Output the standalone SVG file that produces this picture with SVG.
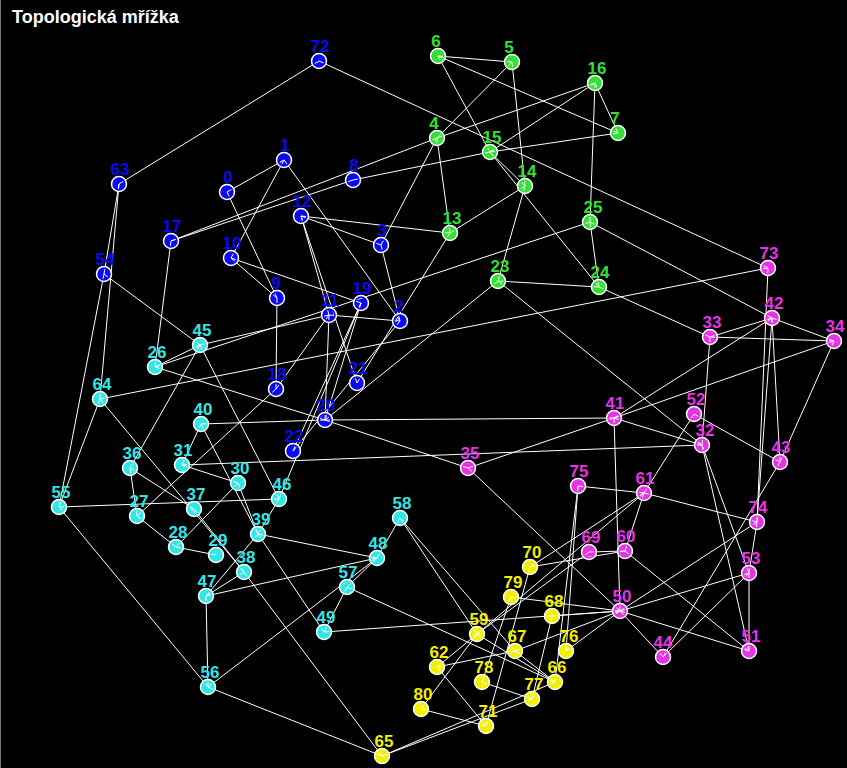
<svg xmlns="http://www.w3.org/2000/svg" xmlns:xlink="http://www.w3.org/1999/xlink" width="847" height="768" viewBox="0 0 847 768">
<style>
.e line{stroke:#fff;stroke-width:1}
.n circle{stroke:#fff;stroke-width:1.5}
text{font-family:"Liberation Sans",Arial,sans-serif;font-weight:bold;font-size:17px;text-anchor:middle}
.t{font-size:18px;text-anchor:start;fill:#fff}
.b circle,.b text{fill:#0a0af0}
.g circle,.g text{fill:#33e033}
.m circle,.m text{fill:#e633e6}
.y circle,.y text{fill:#f0f000}
.c circle,.c text{fill:#33e6e6}
</style>
<defs>
<clipPath id="ctr">
<circle cx="319" cy="61" r="5"/><circle cx="284" cy="160" r="5"/><circle cx="227" cy="192" r="5"/><circle cx="353" cy="180" r="5"/><circle cx="119" cy="184" r="5"/><circle cx="171" cy="241" r="5"/><circle cx="301" cy="216" r="5"/><circle cx="381" cy="245" r="5"/><circle cx="231" cy="258" r="5"/><circle cx="104" cy="274" r="5"/><circle cx="277" cy="298" r="5"/><circle cx="329" cy="315" r="5"/><circle cx="361" cy="303" r="5"/><circle cx="400" cy="321" r="5"/><circle cx="276" cy="389" r="5"/><circle cx="357" cy="383" r="5"/><circle cx="325" cy="420" r="5"/><circle cx="293" cy="451" r="5"/>
<circle cx="438" cy="56" r="5"/><circle cx="512" cy="62" r="5"/><circle cx="595" cy="83" r="5"/><circle cx="618" cy="133" r="5"/><circle cx="437" cy="138" r="5"/><circle cx="490" cy="152" r="5"/><circle cx="525" cy="186" r="5"/><circle cx="450" cy="233" r="5"/><circle cx="590" cy="222" r="5"/><circle cx="498" cy="281" r="5"/><circle cx="599" cy="287" r="5"/>
<circle cx="768" cy="268" r="5"/><circle cx="772" cy="318" r="5"/><circle cx="710" cy="337" r="5"/><circle cx="834" cy="341" r="5"/><circle cx="614" cy="418" r="5"/><circle cx="694" cy="414" r="5"/><circle cx="702" cy="445" r="5"/><circle cx="780" cy="462" r="5"/><circle cx="468" cy="468" r="5"/><circle cx="578" cy="486" r="5"/><circle cx="644" cy="493" r="5"/><circle cx="757" cy="522" r="5"/><circle cx="589" cy="552" r="5"/><circle cx="625" cy="551" r="5"/><circle cx="749" cy="573" r="5"/><circle cx="620" cy="611" r="5"/><circle cx="663" cy="657" r="5"/><circle cx="749" cy="651" r="5"/>
<circle cx="530" cy="567" r="5"/><circle cx="511" cy="597" r="5"/><circle cx="552" cy="616" r="5"/><circle cx="477" cy="634" r="5"/><circle cx="515" cy="651" r="5"/><circle cx="566" cy="651" r="5"/><circle cx="437" cy="667" r="5"/><circle cx="482" cy="682" r="5"/><circle cx="555" cy="682" r="5"/><circle cx="532" cy="699" r="5"/><circle cx="421" cy="709" r="5"/><circle cx="486" cy="726" r="5"/><circle cx="382" cy="756" r="5"/>
<circle cx="200" cy="345" r="5"/><circle cx="155" cy="367" r="5"/><circle cx="100" cy="399" r="5"/><circle cx="201" cy="424" r="5"/><circle cx="130" cy="468" r="5"/><circle cx="182" cy="465" r="5"/><circle cx="238" cy="483" r="5"/><circle cx="279" cy="499" r="5"/><circle cx="59" cy="507" r="5"/><circle cx="137" cy="516" r="5"/><circle cx="194" cy="509" r="5"/><circle cx="258" cy="534" r="5"/><circle cx="176" cy="547" r="5"/><circle cx="216" cy="555" r="5"/><circle cx="244" cy="572" r="5"/><circle cx="206" cy="596" r="5"/><circle cx="208" cy="687" r="5"/><circle cx="400" cy="518" r="5"/><circle cx="377" cy="558" r="5"/><circle cx="347" cy="587" r="5"/><circle cx="324" cy="632" r="5"/>
</clipPath>
</defs>
<rect width="847" height="768" fill="#000"/>
<line x1="0.5" y1="0" x2="0.5" y2="768" stroke="#777"/>
<text class="t" x="12" y="23">Topologická mřížka</text>
<g id="edges" class="e">
<line x1="319" y1="61" x2="119" y2="184"/>
<line x1="319" y1="61" x2="768" y2="268"/>
<line x1="119" y1="184" x2="104" y2="274"/>
<line x1="104" y1="274" x2="59" y2="507"/>
<line x1="119" y1="184" x2="100" y2="399"/>
<line x1="100" y1="399" x2="59" y2="507"/>
<line x1="104" y1="274" x2="200" y2="345"/>
<line x1="438" y1="56" x2="512" y2="62"/>
<line x1="438" y1="56" x2="618" y2="133"/>
<line x1="438" y1="56" x2="490" y2="152"/>
<line x1="512" y1="62" x2="437" y2="138"/>
<line x1="512" y1="62" x2="525" y2="186"/>
<line x1="595" y1="83" x2="437" y2="138"/>
<line x1="595" y1="83" x2="490" y2="152"/>
<line x1="595" y1="83" x2="618" y2="133"/>
<line x1="595" y1="83" x2="590" y2="222"/>
<line x1="490" y1="152" x2="618" y2="133"/>
<line x1="353" y1="180" x2="490" y2="152"/>
<line x1="171" y1="241" x2="437" y2="138"/>
<line x1="171" y1="241" x2="353" y2="180"/>
<line x1="437" y1="138" x2="450" y2="233"/>
<line x1="437" y1="138" x2="381" y2="245"/>
<line x1="450" y1="233" x2="525" y2="186"/>
<line x1="525" y1="186" x2="498" y2="281"/>
<line x1="490" y1="152" x2="525" y2="186"/>
<line x1="490" y1="152" x2="599" y2="287"/>
<line x1="498" y1="281" x2="599" y2="287"/>
<line x1="498" y1="281" x2="702" y2="445"/>
<line x1="590" y1="222" x2="599" y2="287"/>
<line x1="590" y1="222" x2="772" y2="318"/>
<line x1="155" y1="367" x2="590" y2="222"/>
<line x1="100" y1="399" x2="768" y2="268"/>
<line x1="284" y1="160" x2="227" y2="192"/>
<line x1="284" y1="160" x2="231" y2="258"/>
<line x1="284" y1="160" x2="400" y2="321"/>
<line x1="227" y1="192" x2="277" y2="298"/>
<line x1="231" y1="258" x2="277" y2="298"/>
<line x1="231" y1="258" x2="361" y2="303"/>
<line x1="277" y1="298" x2="276" y2="389"/>
<line x1="301" y1="216" x2="450" y2="233"/>
<line x1="301" y1="216" x2="381" y2="245"/>
<line x1="301" y1="216" x2="329" y2="315"/>
<line x1="301" y1="216" x2="357" y2="383"/>
<line x1="381" y1="245" x2="400" y2="321"/>
<line x1="329" y1="315" x2="325" y2="420"/>
<line x1="329" y1="315" x2="400" y2="321"/>
<line x1="329" y1="315" x2="276" y2="389"/>
<line x1="200" y1="345" x2="329" y2="315"/>
<line x1="171" y1="241" x2="155" y2="367"/>
<line x1="155" y1="367" x2="200" y2="345"/>
<line x1="155" y1="367" x2="325" y2="420"/>
<line x1="361" y1="303" x2="325" y2="420"/>
<line x1="361" y1="303" x2="293" y2="451"/>
<line x1="400" y1="321" x2="293" y2="451"/>
<line x1="450" y1="233" x2="357" y2="383"/>
<line x1="498" y1="281" x2="325" y2="420"/>
<line x1="276" y1="389" x2="137" y2="516"/>
<line x1="59" y1="507" x2="279" y2="499"/>
<line x1="59" y1="507" x2="208" y2="687"/>
<line x1="130" y1="468" x2="137" y2="516"/>
<line x1="130" y1="468" x2="200" y2="345"/>
<line x1="130" y1="468" x2="194" y2="509"/>
<line x1="200" y1="345" x2="279" y2="499"/>
<line x1="201" y1="424" x2="182" y2="465"/>
<line x1="182" y1="465" x2="238" y2="483"/>
<line x1="182" y1="465" x2="702" y2="445"/>
<line x1="201" y1="424" x2="325" y2="420"/>
<line x1="325" y1="420" x2="614" y2="418"/>
<line x1="201" y1="424" x2="258" y2="534"/>
<line x1="100" y1="399" x2="244" y2="572"/>
<line x1="137" y1="516" x2="176" y2="547"/>
<line x1="176" y1="547" x2="216" y2="555"/>
<line x1="238" y1="483" x2="176" y2="547"/>
<line x1="238" y1="483" x2="258" y2="534"/>
<line x1="194" y1="509" x2="244" y2="572"/>
<line x1="258" y1="534" x2="279" y2="499"/>
<line x1="258" y1="534" x2="377" y2="558"/>
<line x1="258" y1="534" x2="324" y2="632"/>
<line x1="206" y1="596" x2="377" y2="558"/>
<line x1="206" y1="596" x2="208" y2="687"/>
<line x1="206" y1="596" x2="258" y2="534"/>
<line x1="206" y1="596" x2="244" y2="572"/>
<line x1="244" y1="572" x2="382" y2="756"/>
<line x1="279" y1="499" x2="361" y2="303"/>
<line x1="400" y1="518" x2="377" y2="558"/>
<line x1="347" y1="587" x2="377" y2="558"/>
<line x1="208" y1="687" x2="377" y2="558"/>
<line x1="347" y1="587" x2="324" y2="632"/>
<line x1="400" y1="518" x2="477" y2="634"/>
<line x1="400" y1="518" x2="515" y2="651"/>
<line x1="208" y1="687" x2="382" y2="756"/>
<line x1="325" y1="420" x2="468" y2="468"/>
<line x1="468" y1="468" x2="614" y2="418"/>
<line x1="468" y1="468" x2="620" y2="611"/>
<line x1="614" y1="418" x2="702" y2="445"/>
<line x1="614" y1="418" x2="772" y2="318"/>
<line x1="614" y1="418" x2="834" y2="341"/>
<line x1="614" y1="418" x2="620" y2="611"/>
<line x1="710" y1="337" x2="702" y2="445"/>
<line x1="694" y1="414" x2="644" y2="493"/>
<line x1="694" y1="414" x2="780" y2="462"/>
<line x1="702" y1="445" x2="749" y2="651"/>
<line x1="702" y1="445" x2="749" y2="573"/>
<line x1="780" y1="462" x2="834" y2="341"/>
<line x1="780" y1="462" x2="772" y2="318"/>
<line x1="780" y1="462" x2="663" y2="657"/>
<line x1="768" y1="268" x2="757" y2="522"/>
<line x1="772" y1="318" x2="757" y2="522"/>
<line x1="757" y1="522" x2="749" y2="573"/>
<line x1="749" y1="573" x2="749" y2="651"/>
<line x1="772" y1="318" x2="710" y2="337"/>
<line x1="772" y1="318" x2="834" y2="341"/>
<line x1="710" y1="337" x2="834" y2="341"/>
<line x1="599" y1="287" x2="710" y2="337"/>
<line x1="578" y1="486" x2="644" y2="493"/>
<line x1="644" y1="493" x2="757" y2="522"/>
<line x1="644" y1="493" x2="625" y2="551"/>
<line x1="644" y1="493" x2="530" y2="567"/>
<line x1="578" y1="486" x2="566" y2="651"/>
<line x1="578" y1="486" x2="555" y2="682"/>
<line x1="589" y1="552" x2="625" y2="551"/>
<line x1="589" y1="552" x2="477" y2="634"/>
<line x1="625" y1="551" x2="749" y2="651"/>
<line x1="620" y1="611" x2="663" y2="657"/>
<line x1="620" y1="611" x2="749" y2="651"/>
<line x1="620" y1="611" x2="749" y2="573"/>
<line x1="620" y1="611" x2="757" y2="522"/>
<line x1="620" y1="611" x2="552" y2="616"/>
<line x1="620" y1="611" x2="566" y2="651"/>
<line x1="620" y1="611" x2="515" y2="651"/>
<line x1="620" y1="611" x2="324" y2="632"/>
<line x1="663" y1="657" x2="749" y2="573"/>
<line x1="347" y1="587" x2="555" y2="682"/>
<line x1="382" y1="756" x2="532" y2="699"/>
<line x1="382" y1="756" x2="555" y2="682"/>
<line x1="421" y1="709" x2="486" y2="726"/>
<line x1="421" y1="709" x2="477" y2="634"/>
<line x1="437" y1="667" x2="486" y2="726"/>
<line x1="437" y1="667" x2="515" y2="651"/>
<line x1="437" y1="667" x2="477" y2="634"/>
<line x1="482" y1="682" x2="532" y2="699"/>
<line x1="482" y1="682" x2="511" y2="597"/>
<line x1="486" y1="726" x2="530" y2="567"/>
<line x1="532" y1="699" x2="552" y2="616"/>
<line x1="555" y1="682" x2="515" y2="651"/>
<line x1="555" y1="682" x2="477" y2="634"/>
<line x1="530" y1="567" x2="625" y2="551"/>
<line x1="511" y1="597" x2="620" y2="611"/>
<line x1="477" y1="634" x2="644" y2="493"/>
</g>
<g id="nodes" class="n">
<g id="n72" class="b"><circle cx="319" cy="61" r="7.5"/><text x="320" y="52">72</text></g>
<g id="n1" class="b"><circle cx="284" cy="160" r="7.5"/><text x="285" y="151">1</text></g>
<g id="n0" class="b"><circle cx="227" cy="192" r="7.5"/><text x="228" y="183">0</text></g>
<g id="n8" class="b"><circle cx="353" cy="180" r="7.5"/><text x="354" y="171">8</text></g>
<g id="n63" class="b"><circle cx="119" cy="184" r="7.5"/><text x="120" y="175">63</text></g>
<g id="n17" class="b"><circle cx="171" cy="241" r="7.5"/><text x="172" y="232">17</text></g>
<g id="n12" class="b"><circle cx="301" cy="216" r="7.5"/><text x="302" y="207">12</text></g>
<g id="n3" class="b"><circle cx="381" cy="245" r="7.5"/><text x="382" y="236">3</text></g>
<g id="n10" class="b"><circle cx="231" cy="258" r="7.5"/><text x="232" y="249">10</text></g>
<g id="n54" class="b"><circle cx="104" cy="274" r="7.5"/><text x="105" y="265">54</text></g>
<g id="n9" class="b"><circle cx="277" cy="298" r="7.5"/><text x="276" y="289">9</text></g>
<g id="n11" class="b"><circle cx="329" cy="315" r="7.5"/><text x="330" y="306">11</text></g>
<g id="n19" class="b"><circle cx="361" cy="303" r="7.5"/><text x="362" y="294">19</text></g>
<g id="n2" class="b"><circle cx="400" cy="321" r="7.5"/><text x="399" y="312">2</text></g>
<g id="n18" class="b"><circle cx="276" cy="389" r="7.5"/><text x="277" y="380">18</text></g>
<g id="n21" class="b"><circle cx="357" cy="383" r="7.5"/><text x="358" y="374">21</text></g>
<g id="n20" class="b"><circle cx="325" cy="420" r="7.5"/><text x="326" y="411">20</text></g>
<g id="n22" class="b"><circle cx="293" cy="451" r="7.5"/><text x="294" y="442">22</text></g>
<g id="n6" class="g"><circle cx="438" cy="56" r="7.5"/><text x="436" y="47">6</text></g>
<g id="n5" class="g"><circle cx="512" cy="62" r="7.5"/><text x="509" y="53">5</text></g>
<g id="n16" class="g"><circle cx="595" cy="83" r="7.5"/><text x="597" y="74">16</text></g>
<g id="n7" class="g"><circle cx="618" cy="133" r="7.5"/><text x="615" y="124">7</text></g>
<g id="n4" class="g"><circle cx="437" cy="138" r="7.5"/><text x="434" y="129">4</text></g>
<g id="n15" class="g"><circle cx="490" cy="152" r="7.5"/><text x="492" y="143">15</text></g>
<g id="n14" class="g"><circle cx="525" cy="186" r="7.5"/><text x="527" y="177">14</text></g>
<g id="n13" class="g"><circle cx="450" cy="233" r="7.5"/><text x="452" y="224">13</text></g>
<g id="n25" class="g"><circle cx="590" cy="222" r="7.5"/><text x="593" y="213">25</text></g>
<g id="n23" class="g"><circle cx="498" cy="281" r="7.5"/><text x="500" y="272">23</text></g>
<g id="n24" class="g"><circle cx="599" cy="287" r="7.5"/><text x="600" y="278">24</text></g>
<g id="n73" class="m"><circle cx="768" cy="268" r="7.5"/><text x="769" y="259">73</text></g>
<g id="n42" class="m"><circle cx="772" cy="318" r="7.5"/><text x="774" y="309">42</text></g>
<g id="n33" class="m"><circle cx="710" cy="337" r="7.5"/><text x="712" y="328">33</text></g>
<g id="n34" class="m"><circle cx="834" cy="341" r="7.5"/><text x="835" y="332">34</text></g>
<g id="n41" class="m"><circle cx="614" cy="418" r="7.5"/><text x="615" y="409">41</text></g>
<g id="n52" class="m"><circle cx="694" cy="414" r="7.5"/><text x="696" y="405">52</text></g>
<g id="n32" class="m"><circle cx="702" cy="445" r="7.5"/><text x="705" y="436">32</text></g>
<g id="n43" class="m"><circle cx="780" cy="462" r="7.5"/><text x="781" y="453">43</text></g>
<g id="n35" class="m"><circle cx="468" cy="468" r="7.5"/><text x="470" y="459">35</text></g>
<g id="n75" class="m"><circle cx="578" cy="486" r="7.5"/><text x="579" y="477">75</text></g>
<g id="n61" class="m"><circle cx="644" cy="493" r="7.5"/><text x="645" y="484">61</text></g>
<g id="n74" class="m"><circle cx="757" cy="522" r="7.5"/><text x="758" y="513">74</text></g>
<g id="n69" class="m"><circle cx="589" cy="552" r="7.5"/><text x="591" y="543">69</text></g>
<g id="n60" class="m"><circle cx="625" cy="551" r="7.5"/><text x="626" y="542">60</text></g>
<g id="n53" class="m"><circle cx="749" cy="573" r="7.5"/><text x="751" y="564">53</text></g>
<g id="n50" class="m"><circle cx="620" cy="611" r="7.5"/><text x="622" y="602">50</text></g>
<g id="n44" class="m"><circle cx="663" cy="657" r="7.5"/><text x="663" y="648">44</text></g>
<g id="n51" class="m"><circle cx="749" cy="651" r="7.5"/><text x="751" y="642">51</text></g>
<g id="n70" class="y"><circle cx="530" cy="567" r="7.5"/><text x="532" y="558">70</text></g>
<g id="n79" class="y"><circle cx="511" cy="597" r="7.5"/><text x="513" y="588">79</text></g>
<g id="n68" class="y"><circle cx="552" cy="616" r="7.5"/><text x="554" y="607">68</text></g>
<g id="n59" class="y"><circle cx="477" cy="634" r="7.5"/><text x="479" y="625">59</text></g>
<g id="n67" class="y"><circle cx="515" cy="651" r="7.5"/><text x="517" y="642">67</text></g>
<g id="n76" class="y"><circle cx="566" cy="651" r="7.5"/><text x="569" y="642">76</text></g>
<g id="n62" class="y"><circle cx="437" cy="667" r="7.5"/><text x="439" y="658">62</text></g>
<g id="n78" class="y"><circle cx="482" cy="682" r="7.5"/><text x="484" y="673">78</text></g>
<g id="n66" class="y"><circle cx="555" cy="682" r="7.5"/><text x="557" y="673">66</text></g>
<g id="n77" class="y"><circle cx="532" cy="699" r="7.5"/><text x="534" y="690">77</text></g>
<g id="n80" class="y"><circle cx="421" cy="709" r="7.5"/><text x="423" y="700">80</text></g>
<g id="n71" class="y"><circle cx="486" cy="726" r="7.5"/><text x="488" y="717">71</text></g>
<g id="n65" class="y"><circle cx="382" cy="756" r="7.5"/><text x="384" y="747">65</text></g>
<g id="n45" class="c"><circle cx="200" cy="345" r="7.5"/><text x="202" y="336">45</text></g>
<g id="n26" class="c"><circle cx="155" cy="367" r="7.5"/><text x="157" y="358">26</text></g>
<g id="n64" class="c"><circle cx="100" cy="399" r="7.5"/><text x="102" y="390">64</text></g>
<g id="n40" class="c"><circle cx="201" cy="424" r="7.5"/><text x="203" y="415">40</text></g>
<g id="n36" class="c"><circle cx="130" cy="468" r="7.5"/><text x="132" y="459">36</text></g>
<g id="n31" class="c"><circle cx="182" cy="465" r="7.5"/><text x="183" y="456">31</text></g>
<g id="n30" class="c"><circle cx="238" cy="483" r="7.5"/><text x="240" y="474">30</text></g>
<g id="n46" class="c"><circle cx="279" cy="499" r="7.5"/><text x="282" y="490">46</text></g>
<g id="n55" class="c"><circle cx="59" cy="507" r="7.5"/><text x="61" y="498">55</text></g>
<g id="n27" class="c"><circle cx="137" cy="516" r="7.5"/><text x="139" y="507">27</text></g>
<g id="n37" class="c"><circle cx="194" cy="509" r="7.5"/><text x="196" y="500">37</text></g>
<g id="n39" class="c"><circle cx="258" cy="534" r="7.5"/><text x="261" y="525">39</text></g>
<g id="n28" class="c"><circle cx="176" cy="547" r="7.5"/><text x="178" y="538">28</text></g>
<g id="n29" class="c"><circle cx="216" cy="555" r="7.5"/><text x="218" y="546">29</text></g>
<g id="n38" class="c"><circle cx="244" cy="572" r="7.5"/><text x="246" y="563">38</text></g>
<g id="n47" class="c"><circle cx="206" cy="596" r="7.5"/><text x="207" y="587">47</text></g>
<g id="n56" class="c"><circle cx="208" cy="687" r="7.5"/><text x="210" y="678">56</text></g>
<g id="n58" class="c"><circle cx="400" cy="518" r="7.5"/><text x="402" y="509">58</text></g>
<g id="n48" class="c"><circle cx="377" cy="558" r="7.5"/><text x="378" y="549">48</text></g>
<g id="n57" class="c"><circle cx="347" cy="587" r="7.5"/><text x="348" y="578">57</text></g>
<g id="n49" class="c"><circle cx="324" cy="632" r="7.5"/><text x="326" y="623">49</text></g>
</g>
<use xlink:href="#edges" href="#edges" clip-path="url(#ctr)"/>
</svg>
